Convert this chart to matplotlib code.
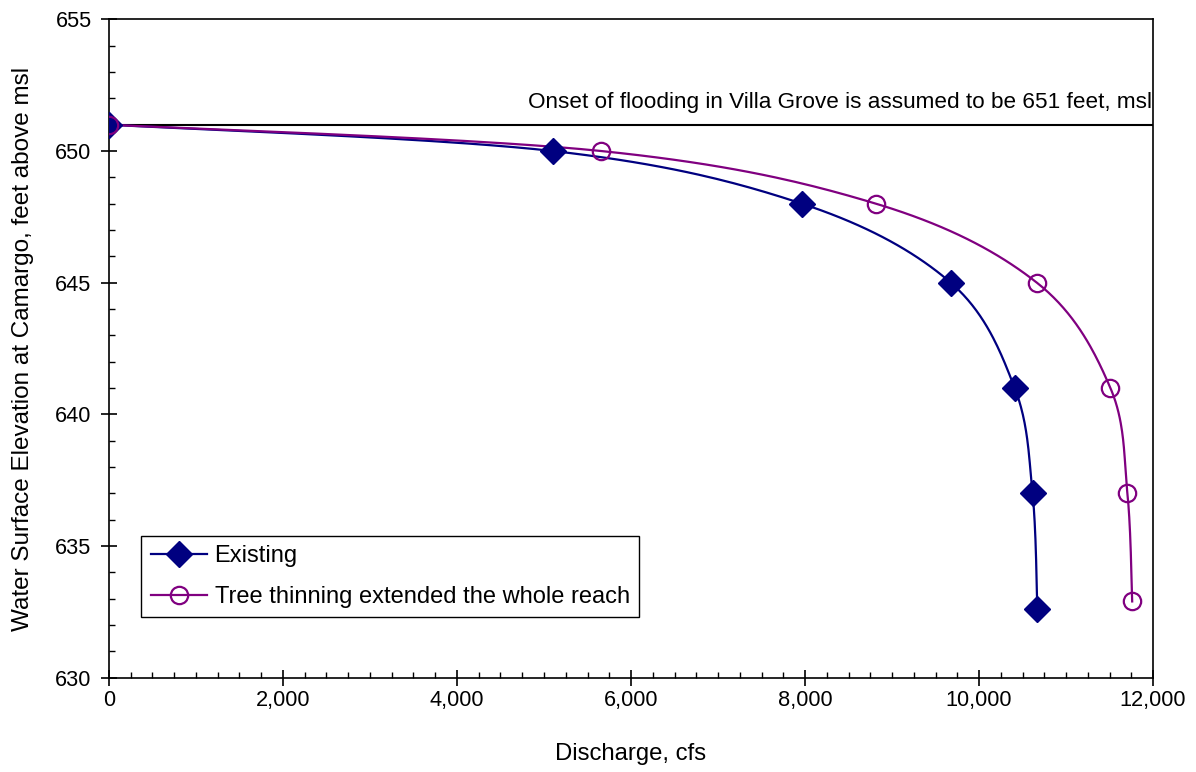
import numpy as np
import matplotlib
matplotlib.use("Agg")
import matplotlib.pyplot as plt
from matplotlib.ticker import MultipleLocator, FuncFormatter

plt.rcParams['font.family'] = ['Liberation Sans', 'DejaVu Sans']

# data
existing_q = [0, 5100, 7965, 9675, 10410, 10615, 10670]
existing_wse = [651, 650, 648, 645, 641, 637, 632.6]
thinning_q = [0, 5655, 8815, 10665, 11510, 11705, 11760]
thinning_wse = [651, 650, 648, 645, 641, 637, 632.9]
flood_level = 651
flood_note = "Onset of flooding in Villa Grove is assumed to be 651 feet, msl"


def smooth(x, y, n=40):
    # catmull-rom style smoothing like Excel's smoothed line
    x = np.asarray(x, float)
    y = np.asarray(y, float)
    px = np.concatenate([[x[0]], x, [x[-1]]])
    py = np.concatenate([[y[0]], y, [y[-1]]])
    xs, ys = [], []
    t = np.linspace(0, 1, n)
    for i in range(1, len(px) - 2):
        p0, p1, p2, p3 = (np.array([px[j], py[j]]) for j in (i - 1, i, i + 1, i + 2))
        c1 = p1 + (p2 - p0) / 6
        c2 = p2 - (p3 - p1) / 6
        b = ((1 - t) ** 3)[:, None] * p1 + (3 * (1 - t) ** 2 * t)[:, None] * c1 \
            + (3 * (1 - t) * t ** 2)[:, None] * c2 + (t ** 3)[:, None] * p2
        xs.extend(b[:, 0])
        ys.extend(b[:, 1])
    return xs, ys


fig = plt.figure(figsize=(11.96, 7.72), dpi=100)
ax = fig.add_axes([0.0911, 0.122, 0.873, 0.853])

navy = '#000080'
purple = '#800080'

ax.axhline(flood_level, color='black', lw=1.5, zorder=2)
ax.text(11985, 651.85, flood_note, ha='right', va='center', fontsize=16.2)

sx, sy = smooth(existing_q, existing_wse)
ax.plot(sx, sy, color=navy, lw=1.6, zorder=3)
sx, sy = smooth(thinning_q, thinning_wse)
ax.plot(sx, sy, color=purple, lw=1.6, zorder=3)

ax.plot(existing_q, existing_wse, ls='none', marker='D', ms=13, color=navy, zorder=4)
ax.plot(thinning_q, thinning_wse, ls='none', marker='o', ms=12.5, mfc='none',
        mec=purple, mew=1.6, zorder=5)

# legend proxies
h1, = ax.plot([], [], color=navy, lw=1.6, marker='D', ms=13)
h2, = ax.plot([], [], color=purple, lw=1.6, marker='o', ms=12.5, mfc='none', mew=1.6)
leg = ax.legend([h1, h2], ['Existing', 'Tree thinning extended the whole reach'],
                loc='lower left', bbox_to_anchor=(0.031, 0.092), fontsize=17,
                fancybox=False, framealpha=1, edgecolor='black', handlelength=2.4,
                handletextpad=0.3, borderpad=0.4, labelspacing=0.78, borderaxespad=0)
leg.get_frame().set_linewidth(1.0)

ax.set_xlim(0, 12000)
ax.set_ylim(630, 655)
ax.xaxis.set_major_locator(MultipleLocator(2000))
ax.xaxis.set_minor_locator(MultipleLocator(250))
ax.yaxis.set_major_locator(MultipleLocator(5))
ax.yaxis.set_minor_locator(MultipleLocator(1))
ax.xaxis.set_major_formatter(FuncFormatter(lambda v, p: f"{v:,.0f}"))
ax.tick_params(which='major', direction='inout', length=11, width=1.2, labelsize=15.7)
ax.tick_params(axis='x', which='major', pad=3)
ax.tick_params(axis='y', which='major', pad=7)
ax.tick_params(which='minor', direction='in', length=4.5, width=1.0)
ax.tick_params(top=False, right=False)
for s in ax.spines.values():
    s.set_linewidth(1.2)

ax.set_xlabel("Discharge, cfs", fontsize=17.2, labelpad=23)
ax.set_ylabel("Water Surface Elevation at Camargo, feet above msl", fontsize=17.5, labelpad=15)

fig.savefig("out.png", dpi=100)
